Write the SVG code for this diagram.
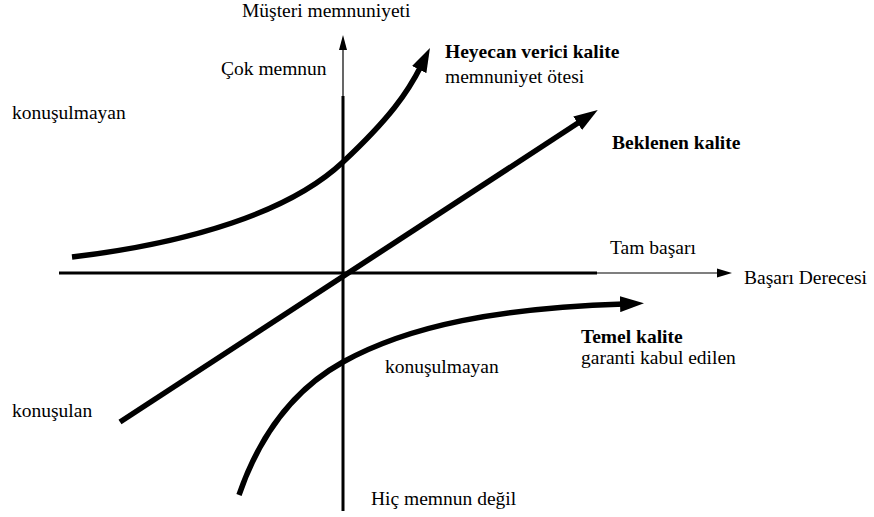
<svg xmlns="http://www.w3.org/2000/svg" width="874" height="517" viewBox="0 0 874 517">
<style>
text{font-family:"Liberation Serif","Times New Roman",serif;font-size:19.5px;fill:#000}
.b{font-weight:bold}
.thick{fill:none;stroke:#000;stroke-width:5.5}
.axis{fill:none;stroke:#000;stroke-width:3}
.thin{fill:none;stroke:#000;stroke-width:1.2}
</style>
<defs>
<marker id="bigArrow" markerUnits="userSpaceOnUse" viewBox="0 0 24 16" markerWidth="24" markerHeight="16" refX="4" refY="8" orient="auto">
<path d="M0,0 L24,8 L0,16 z" fill="#000"/>
</marker>
</defs>
<rect width="874" height="517" fill="#fff"/>
<g id="axes">
<line class="thin" x1="343" y1="48" x2="343" y2="97"/>
<line class="axis" x1="343" y1="96" x2="343" y2="511"/>
<polygon points="343,35 339,50 347,50" fill="#000"/>
<line class="axis" x1="59" y1="273" x2="597" y2="273"/>
<line class="thin" x1="596" y1="273" x2="720" y2="273"/>
<polygon points="732,273 717,268.5 717,277.5" fill="#000"/>
</g>
<g id="connectors">
<path id="excitement" class="thick" d="M72,257 C190,243 290,212 343,162 C390,118 408,92 421,66" marker-end="url(#bigArrow)"/>
<path id="expected" class="thick" d="M120,422 L581,121" marker-end="url(#bigArrow)"/>
<path id="basic" class="thick" d="M239,495 C262,428 298,387 343,362 C410,325 500,308 624,304" marker-end="url(#bigArrow)"/>
</g>
<g id="label-y-axis"><text x="242" y="17">Müşteri memnuniyeti</text></g>
<g id="label-cok"><text x="221" y="75">Çok memnun</text></g>
<g id="label-heyecan"><text class="b" x="445" y="58">Heyecan verici kalite</text><text x="445" y="83">memnuniyet ötesi</text></g>
<g id="label-konusulmayan-top"><text x="12" y="119">konuşulmayan</text></g>
<g id="label-beklenen"><text class="b" x="612" y="149">Beklenen kalite</text></g>
<g id="label-tam"><text x="610" y="254">Tam başarı</text></g>
<g id="label-x-axis"><text x="744" y="284">Başarı Derecesi</text></g>
<g id="label-temel"><text class="b" x="581" y="343">Temel kalite</text><text x="581" y="364">garanti kabul edilen</text></g>
<g id="label-konusulmayan-bottom"><text x="385" y="373">konuşulmayan</text></g>
<g id="label-konusulan"><text x="12" y="417">konuşulan</text></g>
<g id="label-hic"><text x="371" y="505">Hiç memnun değil</text></g>
</svg>
